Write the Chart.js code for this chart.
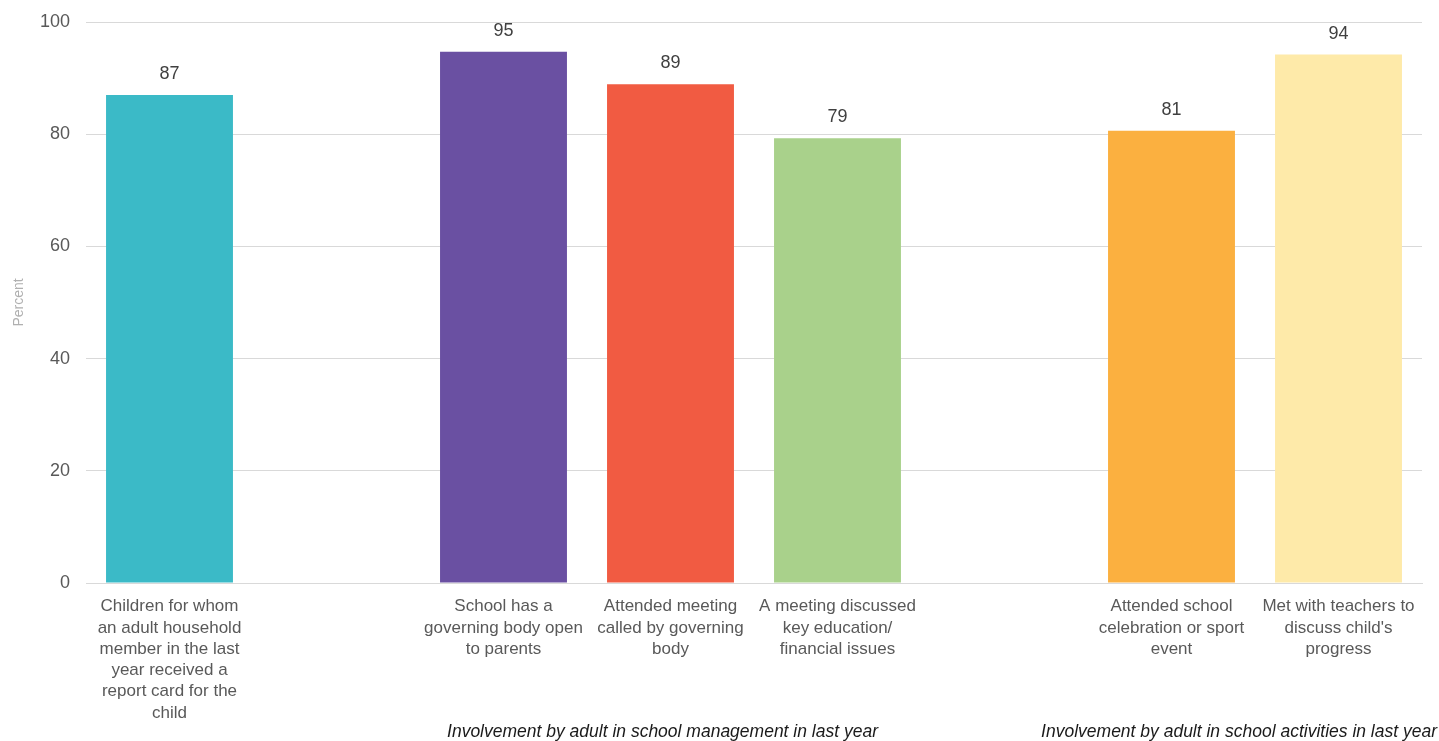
<!DOCTYPE html>
<html>
<head>
<meta charset="utf-8">
<script src="https://cdn.jsdelivr.net/npm/chart.js@4"></script>
<style>
  html, body { margin:0; padding:0; background:#fff; }
  #wrap { width:1439px; height:741px; position:relative; }
</style>
</head>
<body>
<div id="wrap"><canvas id="chart"></canvas></div>
<script>
// ── Data ──
const CATEGORIES = [
  ['Children for whom', 'an adult household', 'member in the last', 'year received a', 'report card for the', 'child'],
  '',
  ['School has a', 'governing body open', 'to parents'],
  ['Attended meeting', 'called by governing', 'body'],
  ['A meeting discussed', 'key education/', 'financial issues'],
  '',
  ['Attended school', 'celebration or sport', 'event'],
  ['Met with teachers to', 'discuss child\'s', 'progress']
];
const VALUES = [87.0, null, 94.7, 88.9, 79.3, null, 80.6, 94.2];
const LABELS = ['87', '', '95', '89', '79', '', '81', '94'];
const BAR_COLORS = ['#3bbac7', '#fff', '#6a50a2', '#f15b42', '#a9d18b', '#fff', '#fbb040', '#feeaa9'];
const GROUPS = [
  { text:'Involvement by adult in school management in last year', from:2, to:4 },
  { text:'Involvement by adult in school activities in last year', from:6, to:7 }
];
const Y_TICKS = [0, 20, 40, 60, 80, 100];

const FONT = '"Liberation Sans", Arial, sans-serif';

// value labels above bars + group captions under the axis
const extras = {
  id:'extras',
  afterDatasetsDraw(chart) {
    const ctx = chart.ctx;
    const meta = chart.getDatasetMeta(0);
    ctx.save();
    ctx.font = '18px ' + FONT;
    ctx.fillStyle = '#404040';
    ctx.textAlign = 'center';
    ctx.textBaseline = 'bottom';
    meta.data.forEach((bar, i) => {
      if (VALUES[i] == null) return;
      ctx.fillText(LABELS[i], bar.x, bar.y - 12);
    });
    // group captions
    const x = chart.scales.x;
    ctx.font = 'italic 17.5px ' + FONT;
    ctx.fillStyle = '#1a1a1a';
    ctx.textBaseline = 'middle';
    const g0 = GROUPS[0];
    ctx.fillText(g0.text, (x.getPixelForValue(g0.from) + x.getPixelForValue(g0.to)) / 2 - 8, 732);
    const g1 = GROUPS[1];
    ctx.textAlign = 'right';
    ctx.fillText(g1.text, chart.width - 2, 732);
    ctx.restore();
  }
};

new Chart(document.getElementById('chart'), {
  type:'bar',
  data:{ labels:CATEGORIES, datasets:[{ data:VALUES, backgroundColor:BAR_COLORS, categoryPercentage:1, barPercentage:0.76 }] },
  options:{
    responsive:true, maintainAspectRatio:false, animation:false,
    layout:{ padding:{ top:22, right:17, left:7, bottom:0 } },
    plugins:{ legend:{ display:false }, tooltip:{ enabled:false } },
    scales:{
      x:{
        grid:{ display:false },
        border:{ color:'#d9d9d9', width:1 },
        ticks:{ color:'#595959', font:{ family:FONT, size:17, lineHeight:1.25 }, maxRotation:0, autoSkip:false, padding:5 },
        afterFit(s) { s.height = 741 - 583; }
      },
      y:{
        min:0, max:100,
        afterBuildTicks(s) { s.ticks = Y_TICKS.map(v => ({ value:v })); },
        grid:{ color:'#d9d9d9', drawTicks:true, tickLength:14, tickColor:'rgba(0,0,0,0)' },
        border:{ display:false },
        ticks:{ color:'#595959', font:{ family:FONT, size:18 }, padding:2 },
        title:{ display:true, text:'Percent', color:'#b0b0b0', font:{ family:FONT, size:14 }, padding:{ bottom:20 } },
        afterFit(s) { s.width = 79; }
      }
    }
  },
  plugins:[extras]
});
</script>
</body>
</html>
